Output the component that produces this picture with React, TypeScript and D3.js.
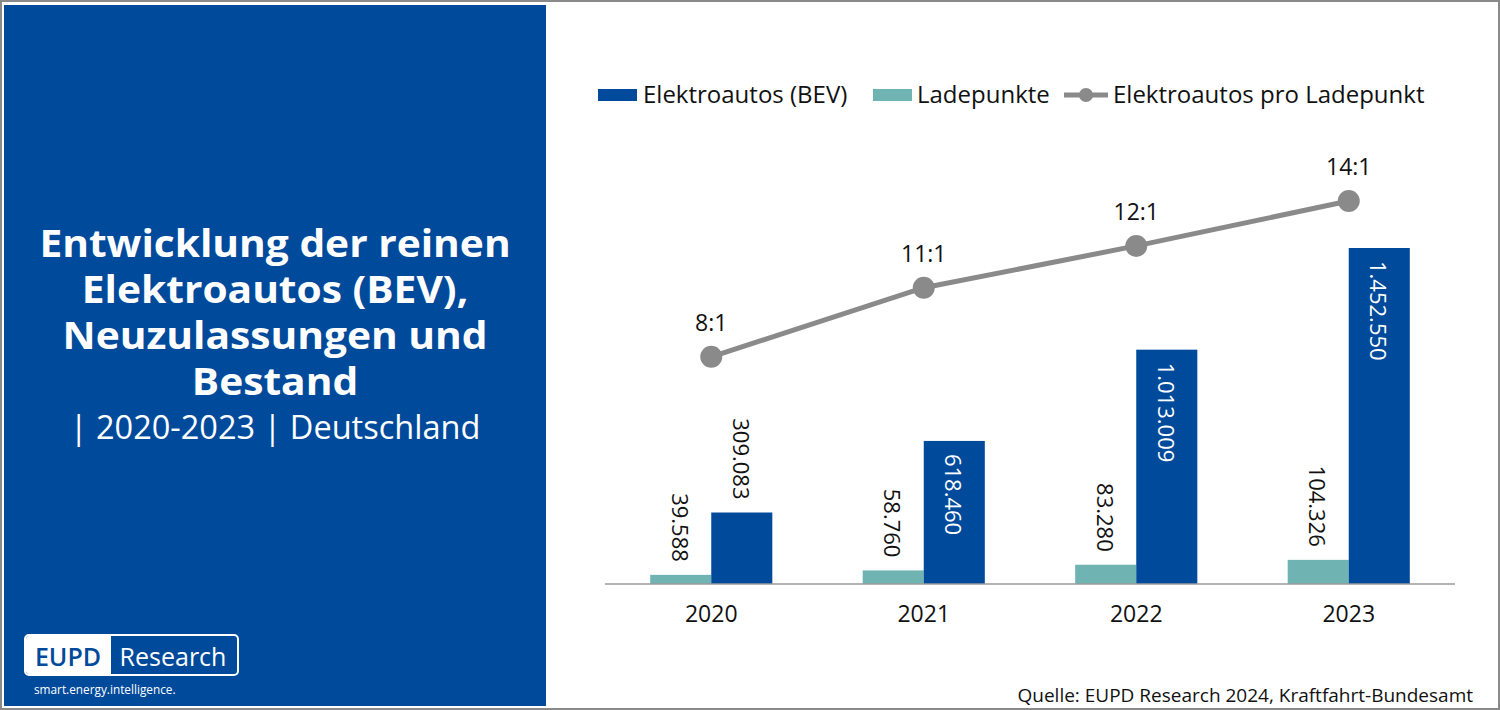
import * as d3 from 'd3'

const years = ['2020', '2021', '2022', '2023']
const bev = [309083, 618460, 1013009, 1452550]
const ladepunkte = [39588, 58760, 83280, 104326]
const ratio = [7.81, 10.52, 12.16, 13.92]
const ratioLabels = ['8:1', '11:1', '12:1', '14:1']
const titleLines = ['Entwicklung der reinen', 'Elektroautos (BEV),', 'Neuzulassungen und', 'Bestand']

const BLUE = '#004a9c'
const TEAL = '#6fb4b3'
const GRAY = '#8a8a8a'
const FONT = '"Open Sans", "Noto Sans", sans-serif'

const fmt = (v: number) => d3.format(',')(v).replace(/,/g, '.')

export default function App() {
  const W = 1500
  const H = 710
  const base = 584

  const x = d3.scaleBand().domain(years).range([605, 1455])
  const xInner = d3.scaleBand().domain(['lp', 'bev']).range([0, x.bandwidth()]).paddingOuter(0.74)
  const yBar = d3.scaleLinear().domain([0, 1452550]).range([base, 248])
  const yLine = d3.scaleLinear().domain([0, 14]).range([556, 199])
  const cx = (y: string) => (x(y) ?? 0) + x.bandwidth() / 2

  const line = d3.line<number>()
    .x((d, i) => cx(years[i]))
    .y(d => yLine(d))

  const bw = xInner.bandwidth()

  return (
    <svg width={W} height={H} style={{ position: 'absolute', left: 0, top: 0, fontFamily: FONT }}>
      <rect x={1} y={1} width={W - 2} height={H - 2} fill="#fff" stroke="#8a8a8a" strokeWidth={2} />
      <rect x={4} y={5} width={542} height={701} fill={BLUE} />

      {/* title */}
      <g fill="#fff" textAnchor="middle">
        <g transform="translate(275,0) scale(1.1,1)">
          <text fontSize={37} fontWeight="bold">
            {titleLines.map((t, i) => (
              <tspan key={t} x={0} y={257 + i * 46}>{t}</tspan>
            ))}
          </text>
        </g>
        <text x={275} y={439} fontSize={32.5}>| 2020-2023 | Deutschland</text>
      </g>

      {/* logo */}
      <g>
        <rect x={25} y={635} width={213} height={40} rx={4} fill={BLUE} stroke="#fff" strokeWidth={2} />
        <path d="M29,636 h82 v38 h-82 a3,3 0 0 1 -3,-3 v-32 a3,3 0 0 1 3,-3 z" fill="#fff" />
        <text x={68} y={666} textAnchor="middle" fontSize={25} fill={BLUE} fontWeight="600">EUPD</text>
        <text x={173} y={666} textAnchor="middle" fontSize={25} fill="#fff">Research</text>
        <text x={34} y={694} fontSize={11.8} fill="#fff">smart.energy.intelligence.</text>
      </g>

      {/* legend */}
      <g fontSize={24} fill="#111">
        <rect x={598} y={89} width={39} height={12} fill={BLUE} />
        <text x={643} y={103}>Elektroautos (BEV)</text>
        <rect x={873} y={89} width={39} height={12} fill={TEAL} />
        <text x={917} y={103}>Ladepunkte</text>
        <line x1={1064} x2={1108} y1={95} y2={95} stroke={GRAY} strokeWidth={5} />
        <circle cx={1086} cy={95} r={7} fill={GRAY} />
        <text x={1113} y={103}>Elektroautos pro Ladepunkt</text>
      </g>

      {/* bars */}
      {years.map((yr, i) => {
        const x0 = x(yr) ?? 0
        const lpX = x0 + (xInner('lp') ?? 0)
        const bvX = x0 + (xInner('bev') ?? 0)
        const lpTop = yBar(ladepunkte[i])
        const bvTop = yBar(bev[i])
        const inside = base - bvTop > 130
        return (
          <g key={yr}>
            <rect x={lpX} y={lpTop} width={bw} height={base - lpTop} fill={TEAL} />
            <rect x={bvX} y={bvTop} width={bw} height={base - bvTop} fill={BLUE} />
            <text transform={`translate(${lpX + bw / 2},${lpTop - 13}) rotate(90)`} textAnchor="end"
              dominantBaseline="central" fontSize={22} fill="#111">{fmt(ladepunkte[i])}</text>
            <text transform={`translate(${bvX + bw / 2},${inside ? bvTop + 13 : bvTop - 13}) rotate(90)`}
              textAnchor={inside ? 'start' : 'end'} dominantBaseline="central" fontSize={22}
              fill={inside ? '#fff' : '#111'}>{fmt(bev[i])}</text>
          </g>
        )
      })}

      {/* axis */}
      <line x1={605} x2={1455} y1={base} y2={base} stroke="#9a9a9a" strokeWidth={1.5} />
      {years.map(yr => (
        <text key={yr} x={cx(yr)} y={622} textAnchor="middle" fontSize={23} fill="#111">{yr}</text>
      ))}

      {/* ratio line */}
      <path d={line(ratio) ?? ''} fill="none" stroke={GRAY} strokeWidth={5} />
      {ratio.map((r, i) => (
        <g key={i}>
          <circle cx={cx(years[i])} cy={yLine(r)} r={11} fill={GRAY} />
          <text x={cx(years[i])} y={yLine(r) - 26} textAnchor="middle" fontSize={23} fill="#111">{ratioLabels[i]}</text>
        </g>
      ))}

      <text x={1473} y={702} textAnchor="end" fontSize={19} fill="#111">Quelle: EUPD Research 2024, Kraftfahrt-Bundesamt</text>
    </svg>
  )
}
